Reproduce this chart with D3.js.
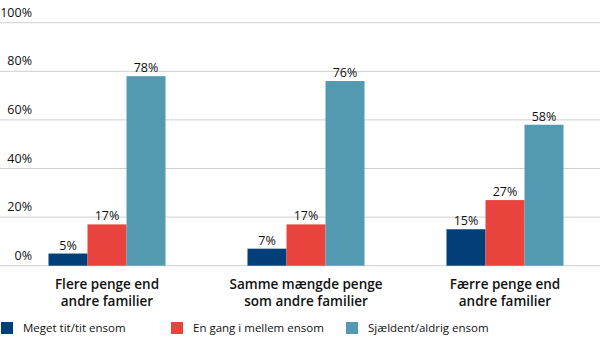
<!DOCTYPE html>
<html><head><meta charset="utf-8">
<script src="https://cdn.jsdelivr.net/npm/d3@7"></script>
<style>body{margin:0;background:#fff}svg{display:block;font-family:"Open Sans",sans-serif}</style>
</head><body><svg id="c" width="600" height="359"></svg>
<script>
const categories = [["Flere penge end","andre familier"],["Samme mængde penge","som andre familier"],["Færre penge end","andre familier"]];
const seriesNames = ["Meget tit/tit ensom","En gang i mellem ensom","Sjældent/aldrig ensom"];
const colors = ["#023f78","#e8433c","#5399b1"];
const values = [[5,17,78],[7,17,76],[15,27,58]];
const ticks = [0,20,40,60,80,100];

const svg = d3.select("#c");
const y = d3.scaleLinear().domain([0,100]).range([265.7,22.7]);
const x0 = d3.scaleBand().domain(d3.range(categories.length)).range([7.5,604.5]).padding(0);
const x1 = d3.scaleBand().domain(d3.range(seriesNames.length)).range([0,117]);

const grid = svg.append("g");
ticks.forEach(t=>{
  grid.append("line").attr("x1",0).attr("x2",600).attr("y1",y(t)).attr("y2",y(t))
    .attr("stroke","#cfcfcf").attr("stroke-width",1);
  grid.append("text").attr("x",32).attr("y",y(t)-6).attr("text-anchor","end")
    .attr("font-size",12.5).attr("fill","#111").text(t+"%");
});

categories.forEach((c,i)=>{
  const g = svg.append("g").attr("transform",`translate(${x0(i)+x0.bandwidth()/2-58.5},0)`);
  values[i].forEach((v,j)=>{
    g.append("rect").attr("x",x1(j)).attr("width",x1.bandwidth()).attr("y",y(v)).attr("height",y(0)-y(v)).attr("fill",colors[j]);
    g.append("text").attr("x",x1(j)+x1.bandwidth()/2).attr("y",y(v)-4).attr("text-anchor","middle")
      .attr("font-size",12.5).attr("fill","#111").text(v+"%");
  });
  const cx = x0(i)+x0.bandwidth()/2;
  c.forEach((line,k)=>{
    svg.append("text").attr("x",cx).attr("y",289+k*16.5).attr("text-anchor","middle")
      .attr("font-size",13.5).attr("font-weight",600).attr("fill","#111").text(line);
  });
});

const legX = [1,171,346];
seriesNames.forEach((s,j)=>{
  svg.append("rect").attr("x",legX[j]).attr("y",322).attr("width",12).attr("height",12).attr("fill",colors[j]);
  svg.append("text").attr("x",legX[j]+22).attr("y",332).attr("font-size",11.5).attr("fill","#111").text(s);
});
</script></body></html>
